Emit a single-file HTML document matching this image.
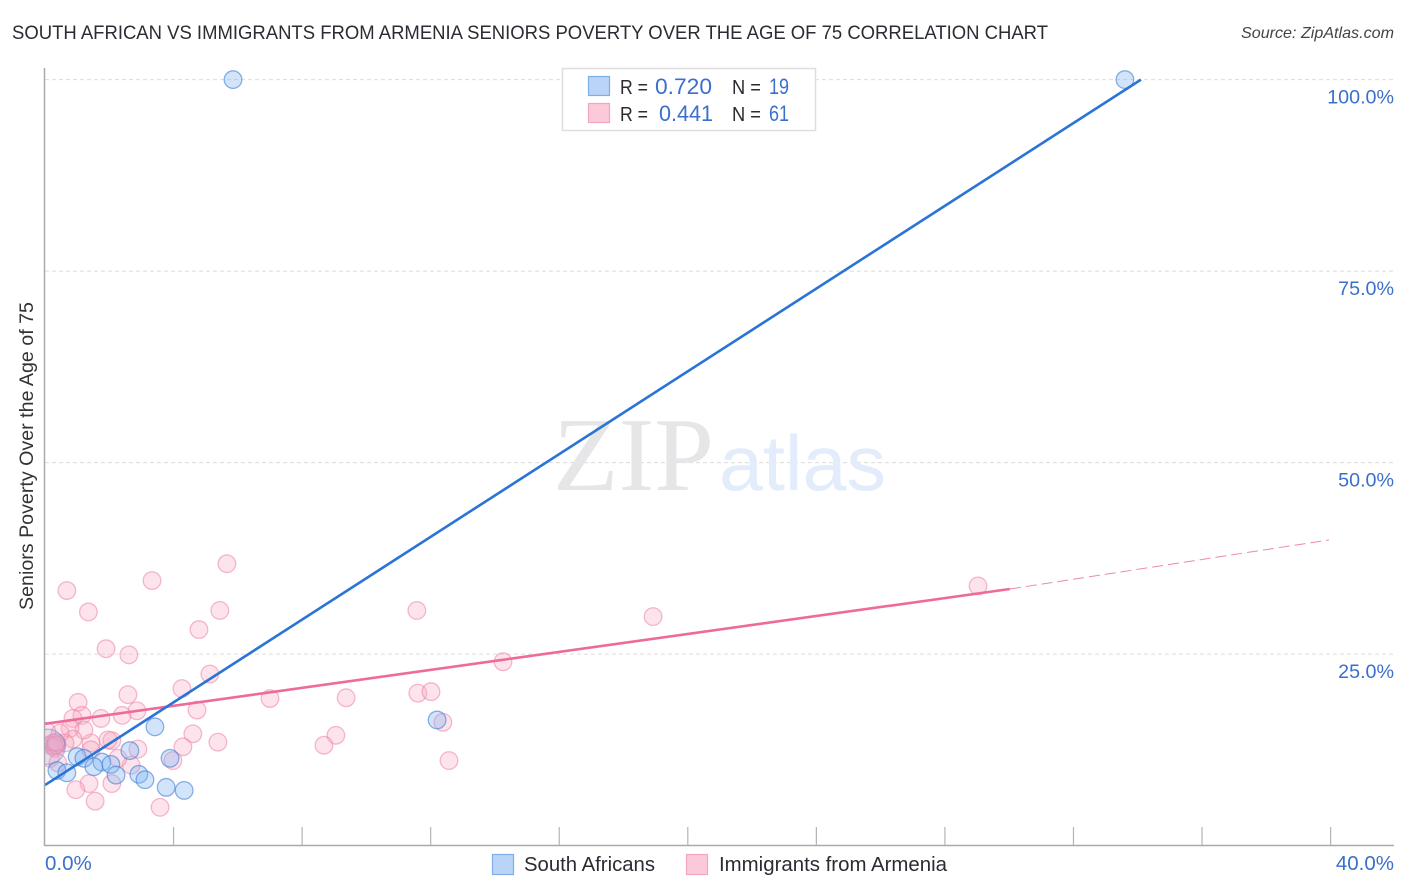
<!DOCTYPE html>
<html lang="en">
<head>
<meta charset="utf-8">
<title>South African vs Immigrants from Armenia Seniors Poverty Correlation Chart</title>
<style>
html,body{margin:0;padding:0;background:#fff;width:1406px;height:892px;overflow:hidden}
svg{display:block;font-family:"Liberation Sans",sans-serif}
</style>
</head>
<body>
<svg id="chart" width="1406" height="892" viewBox="0 0 1406 892" xmlns="http://www.w3.org/2000/svg">
  <defs>
    <clipPath id="plot-clip"><rect x="45" y="60" width="1349" height="785"/></clipPath>
  </defs>
  <rect x="0" y="0" width="1406" height="892" fill="#ffffff"/>
  <text x="12" y="39" font-size="19" fill="#2b2b33" textLength="1036" lengthAdjust="spacingAndGlyphs">SOUTH AFRICAN VS IMMIGRANTS FROM ARMENIA SENIORS POVERTY OVER THE AGE OF 75 CORRELATION CHART</text>
  <text x="1241" y="38" font-size="16" font-style="italic" fill="#444" textLength="153" lengthAdjust="spacingAndGlyphs">Source: ZipAtlas.com</text>

  <g id="grid"></g>

  <g>
    <text x="553" y="490" font-family="'Liberation Serif',serif" font-size="105" fill="#e6e6e8" textLength="161" lengthAdjust="spacingAndGlyphs">ZIP</text>
    <text x="719" y="490" font-size="78" fill="#e3ecfa" textLength="167" lengthAdjust="spacingAndGlyphs">atlas</text>
  </g>

  <g clip-path="url(#plot-clip)">
    <g id="points-armenia"></g>
    <g id="points-south"></g>
  </g>
  <g id="trends"></g>
  <g id="axes"></g>

  <text transform="translate(33,456) rotate(-90)" font-size="19" text-anchor="middle" fill="#333" textLength="308" lengthAdjust="spacingAndGlyphs">Seniors Poverty Over the Age of 75</text>

  <g>
    <rect x="562.5" y="68.5" width="253" height="62" fill="#ffffff" stroke="#dedede" stroke-width="1.5"/>
    <rect x="588.5" y="76.5" width="21" height="19" fill="#b9d4f7" stroke="#7fadea" stroke-width="1.2"/>
    <rect x="588.5" y="103.5" width="21" height="19" fill="#fcc9da" stroke="#f3a7bf" stroke-width="1.2"/>
    <text x="620" y="94" font-size="20" fill="#2b2b33" textLength="28" lengthAdjust="spacingAndGlyphs">R =</text>
    <text x="655" y="94" font-size="22" fill="#3a70cc" textLength="57" lengthAdjust="spacingAndGlyphs">0.720</text>
    <text x="732" y="94" font-size="20" fill="#2b2b33" textLength="29" lengthAdjust="spacingAndGlyphs">N =</text>
    <text x="769" y="94" font-size="22" fill="#3a70cc" textLength="20" lengthAdjust="spacingAndGlyphs">19</text>
    <text x="620" y="121" font-size="20" fill="#2b2b33" textLength="28" lengthAdjust="spacingAndGlyphs">R =</text>
    <text x="659" y="121" font-size="22" fill="#3a70cc" textLength="54" lengthAdjust="spacingAndGlyphs">0.441</text>
    <text x="732" y="121" font-size="20" fill="#2b2b33" textLength="29" lengthAdjust="spacingAndGlyphs">N =</text>
    <text x="769" y="121" font-size="22" fill="#3a70cc" textLength="20" lengthAdjust="spacingAndGlyphs">61</text>
  </g>

  <g>
    <rect x="492.5" y="854.5" width="21" height="20" fill="#b9d4f7" stroke="#7fadea" stroke-width="1.2"/>
    <text x="524" y="871" font-size="20" fill="#2b2b33" textLength="131" lengthAdjust="spacingAndGlyphs">South Africans</text>
    <rect x="686.5" y="854.5" width="21" height="20" fill="#fcc9da" stroke="#f3a7bf" stroke-width="1.2"/>
    <text x="719" y="871" font-size="20" fill="#2b2b33" textLength="228" lengthAdjust="spacingAndGlyphs">Immigrants from Armenia</text>
  </g>
</svg>

<script>
// x values: percent immigrants; y values: seniors poverty percent
const southX = [5.85, 33.6, 3.42, 12.2, 2.64, 3.89, 1.0, 1.21, 1.77, 1.52, 2.05, 2.21, 2.92, 3.11, 3.77, 4.33, 0.37, 0.68, 0.08];
const southY = [100, 100, 15.5, 16.4, 12.4, 11.4, 11.6, 11.4, 10.9, 10.3, 10.6, 9.2, 9.3, 8.6, 7.6, 7.2, 9.8, 9.5, 12.9];
// marker weights: the point near the origin aggregates many observations
const southWeight = [1, 1, 1, 1, 1, 1, 1, 1, 1, 1, 1, 1, 1, 1, 1, 1, 1, 1, 2];

const armeniaX = [0.68, 1.35, 3.33, 5.66, 5.44, 4.79, 1.9, 2.61, 5.13, 4.26, 2.58, 1.03, 4.73, 2.86, 2.4, 1.74, 1.15, 0.87, 7.0, 9.37, 11.6, 12.01, 14.25, 11.57, 18.92, 29.03, 12.38, 12.57, 9.05, 8.68, 5.38, 4.6, 4.29, 2.89, 3.98, 2.68, 2.08, 1.96, 1.43, 1.43, 1.21, 0.78, 0.87, 0.62, 0.37, 0.06, 0.47, 0.25, 0.16, 0.31, 0.28, 0.16, 0.4, 2.27, 2.08, 1.37, 0.96, 1.56, 3.58, 0.34, 0.34];
const armeniaY = [33.3, 30.5, 34.6, 36.8, 30.7, 28.2, 25.7, 24.9, 22.4, 20.5, 19.7, 18.7, 17.7, 17.6, 17.0, 16.6, 17.0, 16.6, 19.2, 19.3, 19.9, 20.1, 24.0, 30.7, 29.9, 33.9, 16.1, 11.1, 14.4, 13.1, 13.5, 14.6, 12.9, 12.6, 11.1, 10.5, 13.7, 13.8, 13.4, 12.5, 15.1, 15.3, 13.9, 13.4, 13.3, 14.9, 14.7, 13.4, 13.1, 12.7, 13.0, 11.4, 10.8, 11.4, 8.1, 8.1, 7.3, 5.8, 5.0, 13.1, 13.5];

const southTrendX = [0, 34.1];
const southTrendY = [7.9, 100];
const armeniaTrendX = [0, 30.02];
const armeniaTrendY = [15.9, 33.5];
const armeniaDashX = [30.02, 39.95];
const armeniaDashY = [33.5, 39.9];

const yTickValues = [100, 75, 50, 25];
const yTickLabels = ['100.0%', '75.0%', '50.0%', '25.0%'];
const xTickValues = [0, 4, 8, 12, 16, 20, 24, 28, 32, 36, 40];
const xEndValues = [0, 40];
const xEndLabels = ['0.0%', '40.0%'];

const NS = 'http://www.w3.org/2000/svg';
function xScale(v) { return 45 + v * 32.14; }
function yScale(v) { return 845.6 - v * 7.66; }
function make(tag, attrs, parent) {
  const el = document.createElementNS(NS, tag);
  for (const k in attrs) el.setAttribute(k, attrs[k]);
  parent.appendChild(el);
  return el;
}

const grid = document.getElementById('grid');
const axes = document.getElementById('axes');
const ptsSouth = document.getElementById('points-south');
const ptsArmenia = document.getElementById('points-armenia');
const trends = document.getElementById('trends');

yTickValues.forEach(function (v, i) {
  const y = yScale(v);
  const line = make('line', { x1: 45, x2: 1394, y1: y, y2: y, stroke: '#dcdcdc', 'stroke-width': 1, 'stroke-dasharray': '4 3' }, grid);
  
  
  const t = make('text', { x: 1394, y: y + 24, 'font-size': 19.7, 'text-anchor': 'end', fill: '#3a70cc' }, axes);
  t.textContent = yTickLabels[i];
  
  
});

const yAxis = make('line', { x1: 44.5, x2: 44.5, y1: 68, y2: 846, stroke: '#aaaaaa', 'stroke-width': 1.5 }, axes);


const xAxis = make('line', { x1: 44, x2: 1394, y1: 845.5, y2: 845.5, stroke: '#aaaaaa', 'stroke-width': 1.5 }, axes);



xTickValues.forEach(function (v) {
  if (v === 0) return;
  const x = xScale(v);
  const tick = make('line', { x1: x, x2: x, y1: 827, y2: 845, stroke: '#b4b4b4', 'stroke-width': 1.2 }, axes);
  
  
});

xEndValues.forEach(function (v, i) {
  const t = make('text', { x: i === 0 ? xScale(v) : 1394, y: 870, 'font-size': 20.5, 'text-anchor': i === 0 ? 'start' : 'end', fill: '#3a70cc' }, axes);
  t.textContent = xEndLabels[i];
  
  
});

armeniaX.forEach(function (v, i) {
  const c = make('circle', { cx: xScale(v), cy: yScale(armeniaY[i]), r: 8.8, fill: 'rgba(250,170,195,0.33)', stroke: 'rgba(236,130,165,0.55)', 'stroke-width': 1.3 }, ptsArmenia);
  
  
});

southX.forEach(function (v, i) {
  const big = southWeight[i] > 1;
  const c = make('circle', { cx: xScale(v), cy: yScale(southY[i]), r: 8.8 * southWeight[i], fill: big ? 'rgba(130,180,240,0.14)' : 'rgba(130,180,240,0.36)', stroke: big ? 'rgba(70,130,215,0.4)' : 'rgba(70,130,215,0.62)', 'stroke-width': 1.3 }, ptsSouth);
  
  
});

const lineArmenia = make('line', { x1: xScale(armeniaTrendX[0]), y1: yScale(armeniaTrendY[0]), x2: xScale(armeniaTrendX[1]), y2: yScale(armeniaTrendY[1]), stroke: '#ee6a9a', 'stroke-width': 2.6 }, trends);



const lineDash = make('line', { x1: xScale(armeniaDashX[0]), y1: yScale(armeniaDashY[0]), x2: xScale(armeniaDashX[1]), y2: yScale(armeniaDashY[1]), stroke: '#eb8aae', 'stroke-width': 1, 'stroke-dasharray': '11 5' }, trends);



const lineSouth = make('line', { x1: xScale(southTrendX[0]), y1: yScale(southTrendY[0]), x2: xScale(southTrendX[1]), y2: yScale(southTrendY[1]), stroke: '#2a74d6', 'stroke-width': 2.6 }, trends);


</script>
</body>
</html>
